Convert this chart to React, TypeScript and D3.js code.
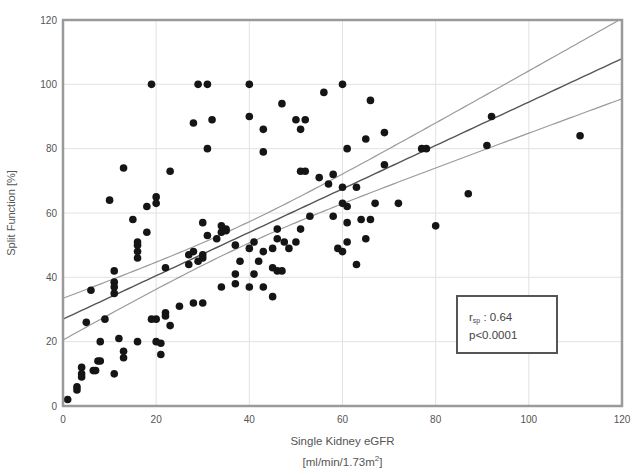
import React from "react";
import * as d3 from "d3";

const xVals = [19,29,31,40,60,56,47,66,28,32,40,50,52,43,51,31,43,92,91,111,77,78,69,65,61,69,87,80,13,23,51,52,58,55,57,60,63,10,20,20,18,15,18,16,16,16,16,60,61,67,72,53,58,61,64,66,51,61,59,60,65,63,30,34,35,34,35,31,33,28,30,30,27,29,27,37,40,41,43,45,46,46,47.5,48.5,50,38,42,37,41,37,40,43,34,45,46,47,45,28,30,22,11,11,11,11,6,5,9,19,20,22,22,23,25,1,3,3,4,4,4,6.5,7,7.5,8,11,8,12,13,13,16,20,21,21];
const yVals = [100,100,100,100,100,97.5,94,95,88,89,90,89,89,86,86,80,79,90,81,84,80,80,85,83,80,75,66,56,74,73,73,73,72,71,69,68,68,64,65,63,62,58,54,51,50,48,46,63,62,63,63,59,59,57,58,58,55,51,49,48,52,44,57,56,55,54,54.5,53,52,48,47,46,44,45,47,50,49,51,48,49,55,52,51,49,51,45,45,41,41,38,37,37,37,43,42,42,34,32,32,43,42,38.5,37,35,36,26,27,27,27,29,28,25,31,2,6,5,12,10,9,11,11,14,14,10,20,21,17,15,20,20,19.5,16];

const xTicks = [0, 20, 40, 60, 80, 100, 120];
const yTicks = [0, 20, 40, 60, 80, 100, 120];

// regression
const fitIntercept = 27;
const fitSlope = 0.675;
const ciBase = 10.8;
const ciSpread = 0.0216;
const ciCenter = 38;
const fitXs = d3.range(0, 120.5, 1);

const statLines = ["r", " : 0.64"];

export default function App() {
  const W = 635, H = 475;
  const left = 63, right = 622, top = 20, bottom = 406;
  const x = d3.scaleLinear().domain([0, 120]).range([left, right]);
  const y = d3.scaleLinear().domain([0, 120]).range([bottom, top]);
  const fit = (v: number) => fitIntercept + fitSlope * v;
  const hw = (v: number) => Math.sqrt(ciBase + ciSpread * (v - ciCenter) ** 2);
  const line = d3.line<number>().x(d => x(d));
  const mid = line.y(d => y(fit(d)))(fitXs);
  const up = d3.line<number>().x(d => x(d)).y(d => y(fit(d) + hw(d)))(fitXs);
  const lo = d3.line<number>().x(d => x(d)).y(d => y(fit(d) - hw(d)))(fitXs);
  const font = "Arial, 'Liberation Sans', sans-serif";
  return (
    <svg width={W} height={H} style={{ position: "absolute", left: 0, top: 0, background: "#fff" }} fontFamily={font}>
      <defs>
        <clipPath id="pc"><rect x={left} y={top} width={right - left} height={bottom - top} /></clipPath>
      </defs>
      {xTicks.map(t => (
        <line key={"gx" + t} x1={x(t)} x2={x(t)} y1={top} y2={bottom} stroke="#e2e2e2" strokeWidth={1} />
      ))}
      {yTicks.map(t => (
        <line key={"gy" + t} x1={left} x2={right} y1={y(t)} y2={y(t)} stroke="#e2e2e2" strokeWidth={1} />
      ))}
      <g clipPath="url(#pc)" fill="none">
        <path d={up || ""} stroke="#9a9a9a" strokeWidth={1.2} />
        <path d={lo || ""} stroke="#9a9a9a" strokeWidth={1.2} />
        <path d={mid || ""} stroke="#555" strokeWidth={1.4} />
      </g>
      {xVals.map((v, i) => (
        <circle key={i} cx={x(v)} cy={y(yVals[i])} r={3.8} fill="#151515" />
      ))}
      <rect x={left} y={top} width={right - left} height={bottom - top} fill="none" stroke="#9a9a9a" strokeWidth={2.5} />
      {yTicks.map(t => (
        <text key={"ty" + t} x={left - 6} y={y(t)} dy="0.35em" textAnchor="end" fontSize={10} fill="#555">{t}</text>
      ))}
      {xTicks.map(t => (
        <text key={"tx" + t} x={x(t)} y={bottom + 17} textAnchor="middle" fontSize={10} fill="#555">{t}</text>
      ))}
      <text transform={`translate(15,${(top + bottom) / 2}) rotate(-90)`} textAnchor="middle" fontSize={11} fill="#555">Split Function [%]</text>
      <text x={(left + right) / 2} y={445} textAnchor="middle" fontSize={11.5} fill="#555">Single Kidney eGFR</text>
      <text x={(left + right) / 2} y={466} textAnchor="middle" fontSize={11.5} fill="#555">[ml/min/1.73m<tspan dy={-5} fontSize={8}>2</tspan><tspan dy={5}>]</tspan></text>
      <rect x={457} y={296} width={100} height={57} fill="#fff" stroke="#555" strokeWidth={2} />
      <text x={469} y={321} fontSize={11.5} fill="#444">{statLines[0]}<tspan fontSize={7} dy={2}>sp</tspan><tspan dy={-2}>{statLines[1]}</tspan></text>
      <text x={469} y={339} fontSize={11.5} fill="#444">p&lt;0.0001</text>
    </svg>
  );
}
